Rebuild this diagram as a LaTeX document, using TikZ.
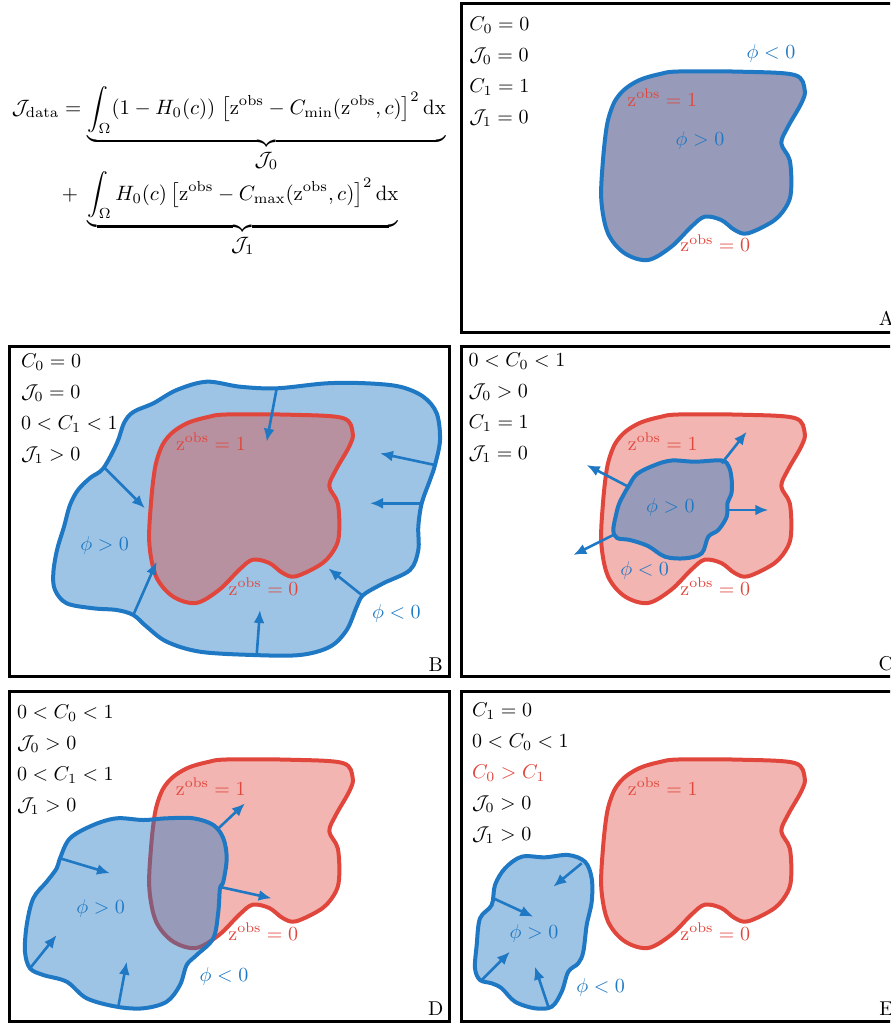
\documentclass[tikz,border=0pt]{standalone}
\usepackage{amsmath}
\usepackage{graphicx}
\usetikzlibrary{arrows.meta}
\definecolor{lsblue}{RGB}{31,120,195}
\definecolor{lsred}{RGB}{225,70,60}
\tikzset{
  panel/.style={draw=black, line width=1.5pt},
  blueline/.style={draw=lsblue, line width=2pt, line join=round},
  redline/.style={draw=lsred, line width=2pt, line join=round},
  bluefill/.style={fill=lsblue, fill opacity=0.43},
  redfill/.style={fill=lsred, fill opacity=0.4},
  flow/.style={draw=lsblue, line width=1.3pt, -{Latex[length=6.5pt,width=5.5pt]}},
  cond/.style={anchor=base west, inner sep=0pt, text=black},
  redlab/.style={anchor=base west, inner sep=0pt, text=lsred},
  bluelab/.style={anchor=base west, inner sep=0pt, text=lsblue},
  letter/.style={anchor=base west, inner sep=0pt},
}
% observed region (relative to panel top-left corner, pixels)
\newcommand{\zobsshape}{plot[smooth cycle, tension=0.55] coordinates {(160,93) (169,85) (182,78) (200,73) (218,70.5) (281.3,70.7) (334.7,74) (344.7,89) (341.3,102.3) (328,125.7) (321.3,142.3) (329.7,159) (331.3,185.7) (328,202.3) (314.7,219) (288,232.3) (274.7,229) (261.3,219) (244.7,215.7) (231.3,225.7) (211.3,245.7) (188,259) (164.7,252.3) (148,232.3) (141.3,199) (143,159) (147,124) (153,104)}}
\begin{document}
\begin{tikzpicture}[x=0.5pt,y=-0.5pt]
\useasboundingbox (0,0) rectangle (890,1024);
\fill[white] (0,0) rectangle (890,1024);
\clip (0,0) rectangle (890,1024);

% ---------------- equation ----------------
\node[anchor=base west, inner sep=0pt] (eqone) at (11.5,114.5)
  {\scalebox{1.04}{$\displaystyle \mathcal{J}_{\mathrm{data}} = \underbrace{\int_{\Omega}(1-H_0(c))\;\bigl[\mathrm{z}^{\mathrm{obs}}-C_{\min}(\mathrm{z}^{\mathrm{obs}},c)\bigr]^2\,\mathrm{dx}}_{\textstyle\mathcal{J}_0}$}};
\node[anchor=base west, inner sep=0pt] (eqtwo) at (61.5,200)
  {\scalebox{1.04}{$\displaystyle +\;\underbrace{\int_{\Omega}H_0(c)\,\bigl[\mathrm{z}^{\mathrm{obs}}-C_{\max}(\mathrm{z}^{\mathrm{obs}},c)\bigr]^2\,\mathrm{dx}}_{\textstyle\mathcal{J}_1}$}};

% ---------------- panel A ----------------
\node[panel, draw, anchor=north west, minimum width=220pt, minimum height=164.75pt, inner sep=0pt] (pA) at (460,1.5) {};
\begin{scope}[shift={(460,1)}]
  \fill[redfill] \zobsshape;
  \path[bluefill, blueline] \zobsshape;
\end{scope}
\node[cond] (a1) at (469,30.5) {$C_0=0$};
\node[cond] (a2) at (469,61.5) {$\mathcal{J}_0=0$};
\node[cond] (a3) at (469,92.5) {$C_1=1$};
\node[cond] (a4) at (469,123.5) {$\mathcal{J}_1=0$};
\node[bluelab] (aneg) at (746.3,58) {$\phi<0$};
\node[bluelab] (apos) at (675.3,145) {$\phi>0$};
\node[redlab] (az1) at (627,106) {$\mathrm{z}^{\mathrm{obs}}=1$};
\node[redlab] (az0) at (680,251.5) {$\mathrm{z}^{\mathrm{obs}}=0$};
\node[letter] (la) at (878.5,325) {A};

% ---------------- panel B ----------------
\node[panel, draw, anchor=north west, minimum width=220pt, minimum height=165pt, inner sep=0pt] (pB) at (8,344.7) {};
\path[bluefill, blueline] plot[smooth cycle, tension=0.55] coordinates {(103.3,468.3) (90,478) (78,490) (70,505) (64,526.7) (57,550) (53.3,573.3) (55,590) (66.7,603.3) (93.3,608.3) (116.7,610) (133.3,615) (146.7,626.7) (166.7,641.7) (200,651.7) (253.3,655) (300,655) (330,646.7) (346.7,630) (356.7,606.7) (363.3,595) (383.3,583.3) (410,570) (418.3,550) (418.3,526.7) (421.7,503.3) (430,480) (435,465) (440,440) (436.7,413.3) (423.3,396.7) (400,386.7) (366.7,383.3) (326.7,383.3) (276.7,388.3) (240,386.7) (206.7,381.7) (176.7,390) (153.3,403.3) (133.3,412) (124,423) (117,443)};
\begin{scope}[shift={(8,344)}]
  \path[redfill, redline] \zobsshape;
\end{scope}
\coordinate (b1s) at (276.7,388.3); \coordinate (b1e) at (266.7,441.7);
\coordinate (b2s) at (105,468.3);   \coordinate (b2e) at (145,508.3);
\coordinate (b3s) at (435,465);     \coordinate (b3e) at (380,453.3);
\coordinate (b4s) at (421.7,503.3); \coordinate (b4e) at (370,503.3);
\coordinate (b5s) at (361.7,595);   \coordinate (b5e) at (328.3,568.3);
\coordinate (b6s) at (256.7,655);   \coordinate (b6e) at (260,610);
\coordinate (b7s) at (133.3,615);   \coordinate (b7e) at (156.7,561.7);
\foreach \i in {1,...,7} {\draw[flow] (b\i s) -- (b\i e);}
\node[cond] (b1) at (20.7,367.5) {$C_0=0$};
\node[cond] (b2) at (20.7,398.5) {$\mathcal{J}_0=0$};
\node[cond] (b3) at (20.7,429.5) {$0<C_1<1$};
\node[cond] (b4) at (20.7,460.5) {$\mathcal{J}_1>0$};
\node[bluelab] (bpos) at (80,550.7) {$\phi>0$};
\node[bluelab] (bneg) at (371.7,618.3) {$\phi<0$};
\node[redlab] (bz1) at (175.7,450) {$\mathrm{z}^{\mathrm{obs}}=1$};
\node[redlab] (bz0) at (228.3,595) {$\mathrm{z}^{\mathrm{obs}}=0$};
\node[letter] (lb) at (428.3,671.5) {B};

% ---------------- panel C ----------------
\node[panel, draw, anchor=north west, minimum width=220pt, minimum height=165pt, inner sep=0pt] (pC) at (460.3,344.7) {};
\begin{scope}[shift={(460,344)}]
  \path[redfill, redline] \zobsshape;
\end{scope}
\path[bluefill, blueline] plot[smooth cycle, tension=0.55] coordinates {(628.3,486.7) (637,474) (655,465) (671.7,460.5) (695,461.7) (721.7,460.5) (729,467) (731.7,480) (731.5,493) (727.5,503.3) (726.7,516.7) (718.3,530) (708.3,536.7) (701.7,553.3) (685,558.3) (665,556.7) (648,546) (630,540) (617,538) (613.3,530) (616,515) (619,504) (624,494)};
\coordinate (c1s) at (721.7,463.3); \coordinate (c1e) at (746.7,431.7);
\coordinate (c2s) at (628.3,486.7); \coordinate (c2e) at (586.7,465);
\coordinate (c3s) at (726.7,510);   \coordinate (c3e) at (768.3,510);
\coordinate (c4s) at (613.3,535);   \coordinate (c4e) at (573.3,555);
\foreach \i in {1,...,4} {\draw[flow] (c\i s) -- (c\i e);}
\node[cond] (c1) at (468.3,366) {$0<C_0<1$};
\node[cond] (c2) at (468.3,397) {$\mathcal{J}_0>0$};
\node[cond] (c3) at (468.3,428) {$C_1=1$};
\node[cond] (c4) at (468.3,459) {$\mathcal{J}_1=0$};
\node[bluelab] (cpos) at (645.7,512.7) {$\phi>0$};
\node[bluelab] (cneg) at (620,575) {$\phi<0$};
\node[redlab] (cz1) at (627.5,450) {$\mathrm{z}^{\mathrm{obs}}=1$};
\node[redlab] (cz0) at (680,595) {$\mathrm{z}^{\mathrm{obs}}=0$};
\node[letter] (lc) at (878.3,670) {C};

% ---------------- panel D ----------------
\node[panel, draw, anchor=north west, minimum width=220pt, minimum height=165pt, inner sep=0pt] (pD) at (8,689.5) {};
\begin{scope}[shift={(8,689)}]
  \path[redfill, redline] \zobsshape;
\end{scope}
\path[bluefill, blueline] plot[smooth cycle, tension=0.55] coordinates {(60,858.3) (70,838.3) (93.3,825) (116.7,818.3) (143.3,820) (166.7,818.3) (193.3,818.3) (213.3,825) (223.3,838.3) (226.7,858.3) (223.3,881.7) (220,888.3) (218.3,911.7) (213.3,938.3) (196.7,955) (186.7,965) (180,985) (166.7,1001.7) (143.3,1008.3) (116.7,1006.7) (86.7,998.3) (66.7,981.7) (43.3,975) (30,968.3) (25,951.7) (26.7,925) (33.3,898.3) (46.7,881.7) (56.7,868.3)};
\coordinate (d1s) at (60,858.3);    \coordinate (d1e) at (110,873.3);
\coordinate (d2s) at (216.7,830);   \coordinate (d2e) at (245,803.3);
\coordinate (d3s) at (221.7,887.3); \coordinate (d3e) at (271.7,898.3);
\coordinate (d4s) at (30,968.3);    \coordinate (d4e) at (56.7,935);
\coordinate (d5s) at (118.3,1006.7);\coordinate (d5e) at (126.7,961.7);
\foreach \i in {1,...,5} {\draw[flow] (d\i s) -- (d\i e);}
\node[cond] (d1) at (16.7,718.5) {$0<C_0<1$};
\node[cond] (d2) at (16.7,749.5) {$\mathcal{J}_0>0$};
\node[cond] (d3) at (16.7,780.5) {$0<C_1<1$};
\node[cond] (d4) at (16.7,811.5) {$\mathcal{J}_1>0$};
\node[bluelab] (dpos) at (76,913.3) {$\phi>0$};
\node[bluelab] (dneg) at (199.3,981) {$\phi<0$};
\node[redlab] (dz1) at (175.5,795) {$\mathrm{z}^{\mathrm{obs}}=1$};
\node[redlab] (dz0) at (228,940) {$\mathrm{z}^{\mathrm{obs}}=0$};
\node[letter] (ld) at (427.7,1015) {D};

% ---------------- panel E ----------------
\node[panel, draw, anchor=north west, minimum width=220pt, minimum height=165pt, inner sep=0pt] (pE) at (459.7,689.5) {};
\begin{scope}[shift={(460,689)}]
  \path[redfill, redline] \zobsshape;
\end{scope}
\path[bluefill, blueline] plot[smooth cycle, tension=0.55] coordinates {(505,868.3) (521.7,856.7) (545,857.3) (568.3,855) (585,861.7) (591.7,878.3) (591.7,901.7) (586.7,925) (583.3,951.7) (578.3,963.3) (568.3,971.7) (561.7,991.7) (551.7,1006.7) (535,1008.3) (515,1001.7) (501.7,988.3) (491.7,983.3) (480,980) (475,968.3) (476.7,945) (480,918.3) (491.7,905) (495,885)};
\coordinate (e1s) at (581.7,863.3); \coordinate (e1e) at (553.3,886.7);
\coordinate (e2s) at (493.3,898.3); \coordinate (e2e) at (533.3,916.7);
\coordinate (e3s) at (481.7,980);   \coordinate (e3e) at (510,951.7);
\coordinate (e4s) at (548.3,1006.7);\coordinate (e4e) at (535,966.7);
\foreach \i in {1,...,4} {\draw[flow] (e\i s) -- (e\i e);}
\node[cond] (e1) at (471.7,716.5) {$C_1=0$};
\node[cond] (e2) at (471.7,747.5) {$0<C_0<1$};
\node[cond, text=lsred] (e3) at (471.7,778.5) {$C_0>C_1$};
\node[cond] (e4) at (471.7,809.5) {$\mathcal{J}_0>0$};
\node[cond] (e5) at (471.7,840.5) {$\mathcal{J}_1>0$};
\node[bluelab] (epos) at (509.3,938.3) {$\phi>0$};
\node[bluelab] (eneg) at (576,992.3) {$\phi<0$};
\node[redlab] (ez1) at (627.5,795) {$\mathrm{z}^{\mathrm{obs}}=1$};
\node[redlab] (ez0) at (680,940) {$\mathrm{z}^{\mathrm{obs}}=0$};
\node[letter] (le) at (879,1015) {E};
\end{tikzpicture}
\end{document}
